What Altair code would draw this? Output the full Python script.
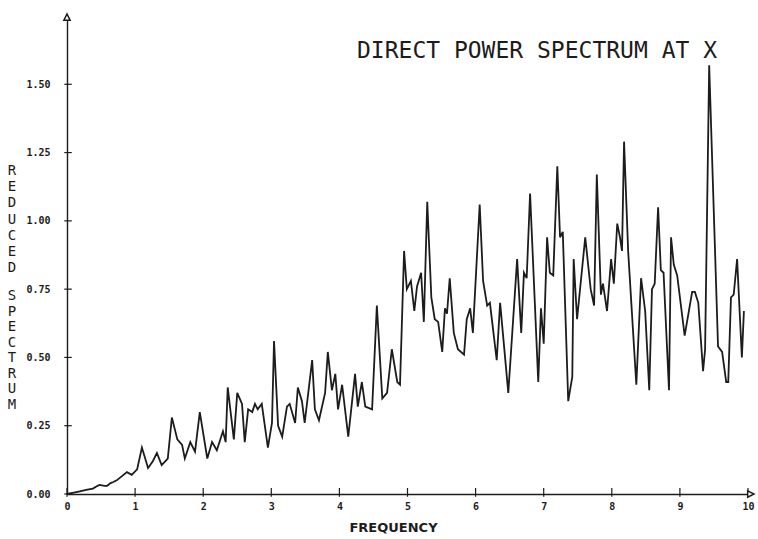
import altair as alt
import pandas as pd

freq = [0.00, 0.10, 0.19, 0.28, 0.38, 0.45, 0.48, 0.55, 0.59, 0.64, 0.68, 0.73, 0.78, 0.83, 0.88, 0.95,
        1.03, 1.10, 1.19, 1.26, 1.32, 1.39, 1.48, 1.54, 1.62, 1.69, 1.73, 1.81, 1.88, 1.95,
        2.06, 2.13, 2.20, 2.29, 2.33, 2.36, 2.45, 2.50, 2.57, 2.61, 2.66, 2.72, 2.76, 2.80, 2.86, 2.95,
        3.01, 3.04, 3.10, 3.16, 3.23, 3.27, 3.35, 3.39, 3.45, 3.49, 3.60, 3.64, 3.70, 3.79, 3.83, 3.89, 3.94, 3.98,
        4.04, 4.13, 4.23, 4.27, 4.33, 4.38, 4.48, 4.55, 4.63, 4.70, 4.77, 4.85, 4.89, 4.95, 4.99,
        5.05, 5.10, 5.14, 5.20, 5.24, 5.29, 5.35, 5.40, 5.45, 5.51, 5.55, 5.58, 5.62, 5.68, 5.74, 5.83, 5.87, 5.92, 5.96,
        6.06, 6.11, 6.17, 6.21, 6.31, 6.36, 6.48, 6.61, 6.67, 6.71, 6.75, 6.80, 6.92, 6.96,
        7.00, 7.05, 7.09, 7.14, 7.20, 7.24, 7.28, 7.36, 7.42, 7.44, 7.49, 7.61, 7.69, 7.74, 7.78, 7.84, 7.87, 7.93, 7.99,
        8.03, 8.08, 8.12, 8.15, 8.18, 8.24, 8.36, 8.43, 8.49, 8.55, 8.59, 8.63, 8.68, 8.72, 8.76, 8.84, 8.87, 8.91, 8.96,
        9.07, 9.18, 9.22, 9.27, 9.34, 9.37, 9.43, 9.56, 9.62, 9.68, 9.71, 9.75, 9.79, 9.84, 9.91, 9.94]

spectrum = [0.00, 0.005, 0.01, 0.015, 0.02, 0.03, 0.033, 0.03, 0.03, 0.04, 0.044, 0.05, 0.06, 0.07, 0.08, 0.07,
            0.09, 0.17, 0.095, 0.12, 0.15, 0.106, 0.13, 0.28, 0.20, 0.18, 0.13, 0.19, 0.155, 0.30,
            0.13, 0.19, 0.16, 0.23, 0.19, 0.39, 0.20, 0.37, 0.33, 0.19, 0.31, 0.30, 0.33, 0.31, 0.33, 0.17,
            0.26, 0.56, 0.25, 0.21, 0.32, 0.33, 0.26, 0.39, 0.34, 0.26, 0.49, 0.31, 0.27, 0.37, 0.52, 0.38, 0.44, 0.31,
            0.40, 0.21, 0.44, 0.32, 0.41, 0.32, 0.31, 0.69, 0.35, 0.37, 0.53, 0.41, 0.40, 0.89, 0.75,
            0.78, 0.67, 0.76, 0.81, 0.63, 1.07, 0.72, 0.64, 0.63, 0.52, 0.68, 0.66, 0.79, 0.59, 0.53, 0.51, 0.64, 0.68, 0.59,
            1.06, 0.78, 0.69, 0.70, 0.49, 0.70, 0.37, 0.86, 0.59, 0.81, 0.79, 1.10, 0.41, 0.68,
            0.55, 0.94, 0.81, 0.80, 1.20, 0.94, 0.96, 0.34, 0.43, 0.86, 0.64, 0.94, 0.75, 0.69, 1.17, 0.73, 0.77, 0.67, 0.86,
            0.77, 0.99, 0.94, 0.89, 1.29, 0.89, 0.40, 0.79, 0.67, 0.38, 0.75, 0.77, 1.05, 0.82, 0.81, 0.38, 0.94, 0.84, 0.80,
            0.58, 0.74, 0.74, 0.70, 0.45, 0.53, 1.57, 0.54, 0.52, 0.41, 0.41, 0.72, 0.73, 0.86, 0.50, 0.67]

x_ticks = [0, 1, 2, 3, 4, 5, 6, 7, 8, 9, 10]
y_ticks = [0.0, 0.25, 0.5, 0.75, 1.0, 1.25, 1.5]
title_text = "DIRECT POWER SPECTRUM AT X"
y_title_1 = ["R", "E", "D", "U", "C", "E", "D"]
y_title_2 = ["S", "P", "E", "C", "T", "R", "U", "M"]
x_title = "FREQUENCY"

W, H = 681, 478
INK = "#1c1c1c"

df = pd.DataFrame({"f": freq, "s": spectrum})

xscale = alt.Scale(domain=[0, 10], nice=False, zero=False)
yscale = alt.Scale(domain=[0, 1.75], nice=False)

line = alt.Chart(df).mark_line(color=INK, strokeWidth=1.8, strokeJoin="miter").encode(
    x=alt.X("f:Q", scale=xscale, axis=alt.Axis(
        values=x_ticks, format="d", ticks=False, grid=False,
        labelFlush=False, labelOverlap=False,
        domainColor=INK, domainWidth=1.4,
        labelFont="DejaVu Sans Mono", labelFontWeight="bold", labelFontSize=10,
        labelColor=INK, labelPadding=7,
        title=x_title, titleFont="DejaVu Sans", titleFontWeight="bold", titleFontSize=13,
        titleColor=INK, titleX=326, titleY=33, titleBaseline="middle", titleAlign="center")),
    y=alt.Y("s:Q", scale=yscale, axis=alt.Axis(
        values=y_ticks, format=".2f", ticks=False, grid=False,
        labelFlush=False, labelOverlap=False,
        domainColor=INK, domainWidth=1.4,
        labelFont="DejaVu Sans Mono", labelFontWeight="bold", labelFontSize=10,
        labelColor=INK, labelPadding=17, title=None)),
)

xt = alt.Chart(pd.DataFrame({"t": x_ticks})).mark_rule(color=INK, strokeWidth=1.2).encode(
    x=alt.X("t:Q", scale=xscale), y=alt.datum(-0.01), y2=alt.datum(0.022))
yt = alt.Chart(pd.DataFrame({"t": y_ticks})).mark_rule(color=INK, strokeWidth=1.2).encode(
    y=alt.Y("t:Q", scale=yscale), x=alt.datum(-0.04), x2=alt.datum(0.07))

one = pd.DataFrame({"a": [0]})
up_arrow = alt.Chart(one).mark_point(
    shape="M-1,2 L0,0 L1,2 Z", size=40, filled=False, stroke=INK, strokeWidth=1.5, fill="white", fillOpacity=1
).encode(x=alt.value(0), y=alt.value(-2))
right_arrow = alt.Chart(one).mark_point(
    shape="M-2,-1 L0,0 L-2,1 Z", size=40, filled=False, stroke=INK, strokeWidth=1.5, fill="white", fillOpacity=1
).encode(x=alt.value(W + 6), y=alt.value(H))
x_ext = alt.Chart(one).mark_rule(color=INK, strokeWidth=1.4).encode(
    x=alt.value(W), x2=alt.value(W + 3), y=alt.value(H))

title = alt.Chart(one).mark_text(
    font="DejaVu Sans Mono", fontSize=23, color=INK, align="left", baseline="alphabetic"
).encode(x=alt.value(290), y=alt.value(42), text=alt.value(title_text))

ytitle1 = alt.Chart(one).mark_text(
    font="DejaVu Sans Mono", fontSize=14, color=INK, align="center", baseline="top", lineHeight=16.2
).encode(x=alt.value(-55), y=alt.value(148), text=alt.value(y_title_1))
ytitle2 = alt.Chart(one).mark_text(
    font="DejaVu Sans Mono", fontSize=14, color=INK, align="center", baseline="top", lineHeight=15.5
).encode(x=alt.value(-55), y=alt.value(273), text=alt.value(y_title_2))

chart = alt.layer(line, xt, yt, x_ext, up_arrow, right_arrow, title, ytitle1, ytitle2).properties(
    width=W, height=H,
    autosize=alt.AutoSizeParams(type="none"),
    padding={"left": 67, "top": 16, "right": 10, "bottom": 45},
    background="white",
).configure_view(stroke=None)

chart.save("out.html", embed_options={"renderer": "svg", "actions": False})
